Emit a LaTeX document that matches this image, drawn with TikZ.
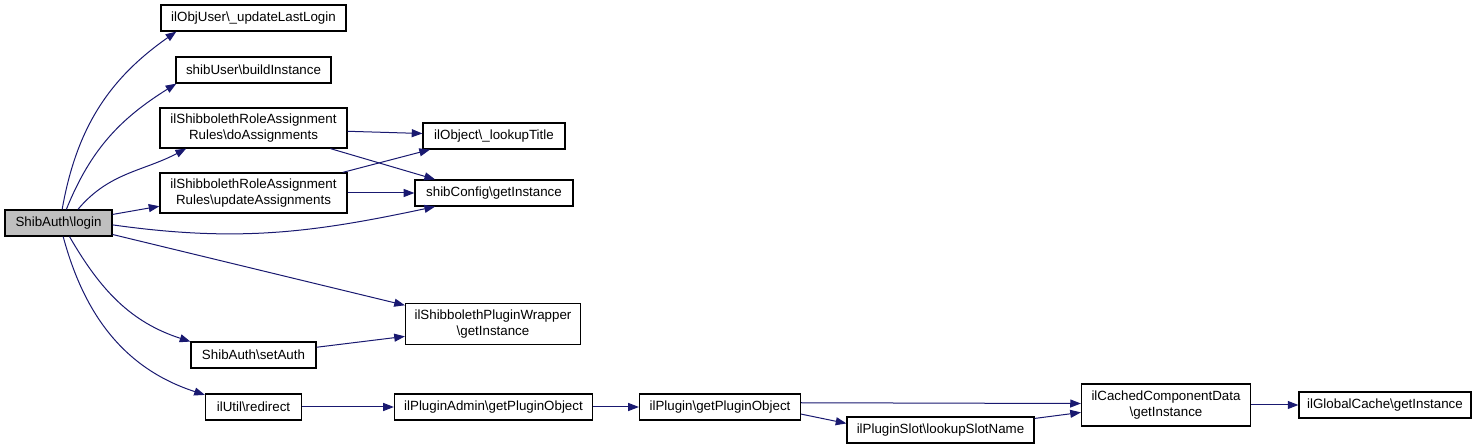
\documentclass[tikz,border=0pt]{standalone}
\usepackage{fontspec}
\setmainfont{Liberation Sans}
\usetikzlibrary{arrows.meta}
\definecolor{callblue}{HTML}{191970}
\definecolor{rootgray}{HTML}{BFBFBF}
\begin{document}
\begin{tikzpicture}[x=0.75pt,y=0.75pt,
  fn/.style={draw,line width=0.9pt,inner sep=0pt,minimum height=19.5pt,align=center,font=\fontsize{10}{12}\selectfont},
  call/.style={draw=callblue,line width=0.75pt,-{Triangle[length=8pt,width=6pt]},callblue}]
\useasboundingbox (0,0) rectangle (1477,-448);
\node[fn,fill=rootgray,minimum width=80.25pt] (login) at (58.5,-223) {ShibAuth\textbackslash login};
\node[fn,minimum width=138.75pt] (lastlogin) at (253.5,-18) {ilObjUser\textbackslash\_updateLastLogin};
\node[fn,minimum width=116.25pt] (build) at (253.5,-70) {shibUser\textbackslash buildInstance};
\node[fn,minimum width=140.25pt,minimum height=30pt] (doassign) at (253.5,-128) {ilShibbolethRoleAssignment\\Rules\textbackslash doAssignments};
\node[fn,minimum width=140.25pt,minimum height=30pt] (updassign) at (253.5,-193) {ilShibbolethRoleAssignment\\Rules\textbackslash updateAssignments};
\node[fn,minimum width=106.5pt] (title) at (494,-136) {ilObject\textbackslash\_lookupTitle};
\node[fn,minimum width=118.5pt] (config) at (494,-193) {shibConfig\textbackslash getInstance};
\node[fn,minimum width=131.25pt,minimum height=30.75pt] (wrapper) at (493,-324) {ilShibbolethPluginWrapper\\\textbackslash getInstance};
\node[fn,minimum width=93.75pt] (setauth) at (253.5,-355) {ShibAuth\textbackslash setAuth};
\node[fn,minimum width=72pt] (redirect) at (253.5,-407) {ilUtil\textbackslash redirect};
\node[fn,minimum width=148.5pt] (admin) at (493.5,-407) {ilPluginAdmin\textbackslash getPluginObject};
\node[fn,minimum width=120.75pt] (plugin) at (720,-407) {ilPlugin\textbackslash getPluginObject};
\node[fn,minimum width=140.25pt] (slot) at (940.5,-430) {ilPluginSlot\textbackslash lookupSlotName};
\node[fn,minimum width=126.75pt,minimum height=31.5pt] (cached) at (1166,-405) {ilCachedComponentData\\\textbackslash getInstance};
\node[fn,minimum width=129pt] (global) at (1385,-405) {ilGlobalCache\textbackslash getInstance};
\draw[call] (login.75) to[out=80,in=215] (lastlogin.190);
\draw[call] (login.60) to[out=68,in=212] (build.190);
\draw[call] (login.35) to[out=50,in=208] (doassign.197);
\draw[call] (login.9.5) -- (updassign.188.5);
\draw[call] (login.-2) to[out=-8,in=192] (config.193);
\draw[call] (login.-12.4) -- (wrapper.168);
\draw[call] (login.-51) to[out=-60,in=162] (setauth.168);
\draw[call] (login.-71) to[out=-75,in=162] (redirect.166);
\draw[call] (doassign.-2) -- (title.178);
\draw[call] (doassign.-15) -- (config.167);
\draw[call] (updassign.13) -- (title.192);
\draw[call] (updassign.east) -- (config.west);
\draw[call] (setauth.7) -- (wrapper.188);
\draw[call] (redirect.east) -- (admin.west);
\draw[call] (admin.east) -- (plugin.west);
\draw[call] (plugin.3) -- (cached.179);
\draw[call] (plugin.-5) -- (slot.176);
\draw[call] (slot.7) -- (cached.185);
\draw[call] (cached.east) -- (global.west);
\end{tikzpicture}
\end{document}
